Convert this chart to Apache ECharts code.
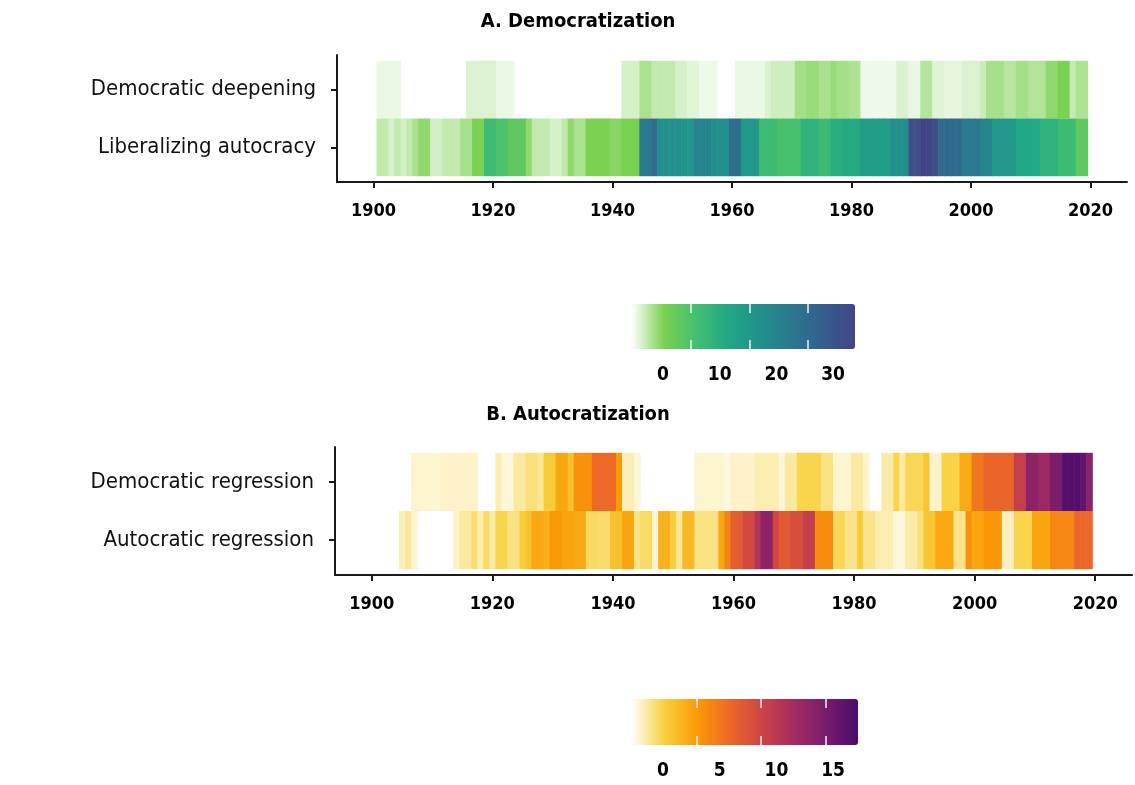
<!DOCTYPE html>
<html>
<head>
<meta charset="utf-8">
<title>Democratization and autocratization episodes, 1900-2020</title>
<script src="https://cdn.jsdelivr.net/npm/echarts@6/dist/echarts.min.js"></script>
<style>
  html, body { margin: 0; padding: 0; background: #fff; }
  #chart { width: 1135px; height: 785px; }
</style>
</head>
<body>
<div id="chart"></div>
<script>
// Yearly values start at 1901; null = no episode that year (blank cell)
const FIRST_YEAR = 1901;
const xTicks = [1900, 1920, 1940, 1960, 1980, 2000, 2020];

const rowsA = ["Liberalizing autocracy", "Democratic deepening"];
const rowsB = ["Autocratic regression", "Democratic regression"];

const democraticDeepening = [
  0.8, 0.8, 0.8, 0.8, null, null, null, null, null, null,
  null, null, null, null, null, 1.5, 1.5, 1.5, 1.5, 1.5,
  0.8, 0.8, 0.8, null, null, null, null, null, null, null,
  null, null, null, null, null, null, null, null, null, null,
  null, 1.7, 1.7, 1.7, 3.5, 3.5, 2.5, 2.5, 2.5, 2.5,
  1.7, 1.7, 1.2, 1.2, 0.7, 0.7, 0.7, null, null, null,
  0.8, 0.8, 0.8, 0.8, 0.8, 1.5, 2, 2, 2, 2,
  3.8, 3.8, 4.2, 4.2, 3.5, 3.5, 4.2, 3.7, 3.7, 3.3,
  3.3, 0.7, 0.7, 0.7, 0.7, 0.7, 0.7, 1.5, 1.5, 0.9,
  0.9, 3.1, 3.1, 1.3, 1.3, 1, 1, 1, 1.5, 1.5,
  1.5, 2.2, 3.6, 3.6, 3.6, 3, 3, 3.7, 3.7, 3.2,
  3.2, 3.2, 4.5, 4.5, 5.4, 5.4, 2.4, 3.3, 3.3
];

const liberalizingAutocracy = [
  2.5, 2.5, 1.7, 2.5, 1.8, 2.5, 3.5, 4.5, 4.5, 1.8,
  1.8, 2.5, 2.5, 2.5, 3.6, 3.6, 5.4, 5.4, 12, 12,
  10, 10, 8, 8, 8, 4.5, 2.5, 2.5, 2.5, 1.7,
  1.7, 2.7, 4.5, 3.5, 3.5, 5.4, 5.4, 5.4, 5.4, 4.8,
  4.8, 5.4, 5.4, 5.4, 27, 27, 30, 22, 22, 22,
  22, 21, 21, 24.5, 24.5, 24.5, 22, 22, 22, 29.5,
  29.5, 20, 20, 20, 12, 12, 12, 10.5, 10.5, 10.5,
  10.5, 14, 14, 14, 12, 12, 15, 15, 16, 16,
  16, 19, 19, 19, 19, 19, 22, 22, 22, 36,
  36, 38, 38, 36, 30, 30, 30, 30, 27, 27,
  27, 24.5, 24.5, 20, 20, 20, 20, 16.3, 16.3, 16.3,
  16.3, 14, 14, 14, 12, 12, 12, 8, 8
];

const democraticRegression = [
  null, null, null, null, null, null, 0.6, 0.6, 0.6, 0.6,
  0.6, 0.7, 0.7, 0.7, 0.7, 0.7, 0.7, null, null, null,
  1, 0.5, 0.5, 1.2, 1.2, 1.7, 1.7, 1.3, 2.8, 2.8,
  4.5, 4.5, 3.3, 5.5, 5.5, 5.5, 7.5, 7.5, 7.5, 7.5,
  5, 0.9, 0.9, 0.5, null, null, null, null, null, null,
  null, null, null, 0.6, 0.6, 0.6, 0.6, 0.6, 0.4, 0.7,
  0.7, 0.7, 0.7, 1, 1, 1, 1, 0.5, 1.2, 1.2,
  2.3, 2.3, 2.3, 2.3, 1.6, 1.6, 0.6, 0.6, 0.6, 1.2,
  1.2, 0.6, null, null, 1.1, 1.1, 2.3, 1.2, 2.2, 2.2,
  2.2, 3, 0.7, 0.7, 2.4, 2.4, 2.4, 4.3, 4.3, 6.8,
  6.8, 7.8, 7.8, 7.8, 7.8, 7.8, 10.6, 10.6, 13.9, 13.9,
  13, 13, 14.8, 14.8, 17, 17, 17, 16.3, 14
];

const autocraticRegression = [
  null, null, null, null, 0.9, 1.3, 0.6, null, null, null,
  null, null, null, 0.7, 1.2, 1.2, 1.8, 1, 2, 1.1,
  2.3, 2.3, 1.6, 1.6, 2.7, 3.2, 4.4, 4.4, 4, 5.1,
  5.1, 4.6, 4.6, 4.4, 4.4, 2, 2, 1.9, 1.9, 3.2,
  3.2, 4.5, 4.5, 1.5, 2, 2, 0.6, 4, 4, 2.6,
  1.3, 3.6, 3.6, 1.6, 1.6, 1.6, 1.6, 4.5, 6.2, 8.3,
  8.3, 9.7, 9.7, 11.7, 13.8, 13.8, 9.8, 8.5, 8.5, 9.3,
  9.3, 10.6, 10.6, 5.7, 5.7, 5.7, 2.1, 2.2, 1.5, 1.5,
  2.8, 1.5, 1.5, 1, 1, 1, 0.5, 0.5, 1.1, 1.1,
  1.7, 3, 3, 4.4, 4.4, 4.4, 1.5, 1.5, 5.6, 4.6,
  4.6, 5.2, 5.2, 5.2, 0.8, 0.8, 2.3, 2.3, 2.3, 4.5,
  4.5, 4.5, 6, 6, 6, 6, 7.7, 7.7, 7.7
];

// colour scales (legend ticks)
const scaleMaxA = 38;
const scaleMaxB = 17.5;
const scaleTicksA = [0, 10, 20, 30];
const scaleTicksB = [0, 5, 10, 15];
const colorsA = ["#ffffff", "#7ad151", "#44bf70", "#22a884", "#21918c", "#2a788e", "#355f8d", "#414487"];
const colorsB = ["#ffffff", "#f7d13d", "#fb9b06", "#ed6925", "#cf4446", "#a52c60", "#781c6d", "#4a0c6b"];

const FONT = "'Liberation Sans Narrow', 'DejaVu Sans Condensed', Roboto, sans-serif";
const INK = "#1a1a1a";

function toCells(values, row) {
  const out = [];
  values.forEach((v, i) => {
    if (v != null) out.push([FIRST_YEAR + i, row, v]);
  });
  return out;
}

function renderCell(params, api) {
  const year = api.value(0);
  const row = api.value(1);
  const topLeft = api.coord([year - 0.5, row + 0.5]);
  const size = api.size([1, 1]);
  return {
    type: "rect",
    shape: { x: topLeft[0], y: topLeft[1], width: size[0] + 0.6, height: size[1] },
    style: { fill: api.visual("color") },
  };
}

function heatXAxis(gridIndex) {
  return {
    type: "value",
    gridIndex,
    min: 1893.9,
    max: 2026.1,
    splitLine: { show: false },
    axisLine: { show: true, lineStyle: { color: INK, width: 2 } },
    axisTick: { show: true, length: 6, customValues: xTicks, lineStyle: { color: INK, width: 2 } },
    axisLabel: {
      customValues: xTicks,
      margin: 20,
      color: "#000",
      fontFamily: FONT,
      fontWeight: "bold",
      fontSize: 18,
      formatter: (v) => String(v),
    },
  };
}

function heatYAxis(gridIndex, names) {
  return {
    type: "value",
    gridIndex,
    min: 0.4,
    max: 2.6,
    splitLine: { show: false },
    axisLine: { show: true, lineStyle: { color: INK, width: 2 } },
    axisTick: { show: true, length: 6, customValues: [1, 2], lineStyle: { color: INK, width: 2 } },
    axisLabel: {
      customValues: [1, 2],
      margin: 21,
      color: "#111",
      fontFamily: FONT,
      fontSize: 22,
      formatter: (v) => names[Math.round(v) - 1],
    },
  };
}

// white tick marks drawn over the colour bar
function barTickAxis(gridIndex, max, ticks, position) {
  return {
    type: "value",
    gridIndex,
    position,
    min: 0,
    max,
    z: 10,
    splitLine: { show: false },
    axisLine: { show: false },
    axisTick: { show: true, inside: true, length: 9, customValues: ticks.slice(1), lineStyle: { color: "#f2f2f2", width: 1.5 } },
    axisLabel: { show: false },
  };
}

// legend numbers sit where the reference prints them
function barLabelAxis(gridIndex, min, max, ticks) {
  return {
    type: "value",
    gridIndex,
    position: "bottom",
    min,
    max,
    splitLine: { show: false },
    axisLine: { show: false },
    axisTick: { show: false },
    axisLabel: {
      customValues: ticks,
      margin: 17,
      color: "#000",
      fontFamily: FONT,
      fontWeight: "bold",
      fontSize: 19,
      formatter: (v) => String(v),
    },
  };
}

const hiddenY = (gridIndex) => ({ type: "value", gridIndex, min: 0, max: 1, show: false });

const chart = echarts.init(document.getElementById("chart"), null, { renderer: "canvas" });

const option = {
  animation: false,
  backgroundColor: "#ffffff",
  title: [
    {
      text: "A. Democratization",
      left: 578, top: 12, padding: 0, textAlign: "center",
      textStyle: { fontFamily: FONT, fontWeight: "bold", fontSize: 20, color: "#000" },
    },
    {
      text: "B. Autocratization",
      left: 578, top: 405, padding: 0, textAlign: "center",
      textStyle: { fontFamily: FONT, fontWeight: "bold", fontSize: 20, color: "#000" },
    },
  ],
  grid: [
    { left: 337, top: 55, width: 790, height: 127 },
    { left: 632, top: 304, width: 223, height: 45 },
    { left: 335, top: 447, width: 797, height: 128 },
    { left: 632, top: 699, width: 226, height: 46 },
  ],
  xAxis: [
    heatXAxis(0),
    barTickAxis(1, scaleMaxA, scaleTicksA, "bottom"),
    barTickAxis(1, scaleMaxA, scaleTicksA, "top"),
    barLabelAxis(1, -5.47, 33.86, scaleTicksA),
    heatXAxis(2),
    barTickAxis(3, scaleMaxB, scaleTicksB, "bottom"),
    barTickAxis(3, scaleMaxB, scaleTicksB, "top"),
    barLabelAxis(3, -2.74, 17.2, scaleTicksB),
  ],
  yAxis: [
    heatYAxis(0, rowsA),
    hiddenY(1),
    heatYAxis(2, rowsB),
    hiddenY(3),
  ],
  visualMap: [
    {
      type: "continuous",
      seriesIndex: [0, 1],
      dimension: 2,
      min: 0,
      max: scaleMaxA,
      orient: "horizontal",
      left: 632,
      top: 304,
      itemWidth: 45,
      itemHeight: 223,
      padding: 0,
      calculable: false,
      hoverLink: false,
      inRange: { color: colorsA },
    },
    {
      type: "continuous",
      seriesIndex: [2, 3],
      dimension: 2,
      min: 0,
      max: scaleMaxB,
      orient: "horizontal",
      left: 632,
      top: 699,
      itemWidth: 46,
      itemHeight: 226,
      padding: 0,
      calculable: false,
      hoverLink: false,
      inRange: { color: colorsB },
    },
  ],
  series: [
    { name: rowsA[1], type: "custom", xAxisIndex: 0, yAxisIndex: 0, renderItem: renderCell, encode: { x: 0, y: 1 }, data: toCells(democraticDeepening, 2) },
    { name: rowsA[0], type: "custom", xAxisIndex: 0, yAxisIndex: 0, renderItem: renderCell, encode: { x: 0, y: 1 }, data: toCells(liberalizingAutocracy, 1) },
    { name: rowsB[1], type: "custom", xAxisIndex: 4, yAxisIndex: 2, renderItem: renderCell, encode: { x: 0, y: 1 }, data: toCells(democraticRegression, 2) },
    { name: rowsB[0], type: "custom", xAxisIndex: 4, yAxisIndex: 2, renderItem: renderCell, encode: { x: 0, y: 1 }, data: toCells(autocraticRegression, 1) },
  ],
};

chart.setOption(option);
</script>
</body>
</html>
